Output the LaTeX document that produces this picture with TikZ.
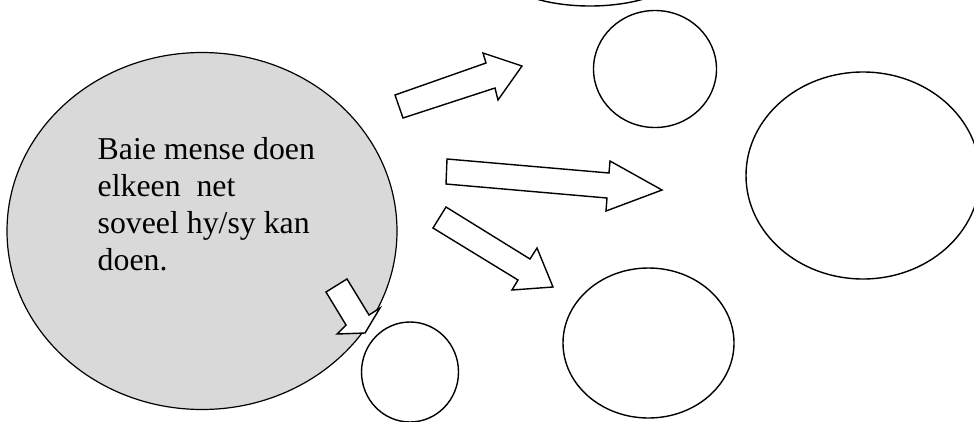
\documentclass[tikz,border=0pt]{standalone}
\usepackage{fontspec}
\setmainfont{Liberation Serif}
\usetikzlibrary{shapes.geometric}
\begin{document}
\begin{tikzpicture}[x=1pt,y=-1pt,line width=1.4pt,
  blob/.style={draw=black},
  blockarrow/.style={draw=black,fill=white,line join=miter}]
\useasboundingbox (0,0) rectangle (974,421);
\begin{scope}
\clip (0,0) rectangle (974,421);
% main grey ellipse
\draw[blob,fill=black!15,line width=1.2pt] (202,231) ellipse [x radius=195, y radius=178.5];
\node[anchor=north west,inner sep=0pt,align=left,font=\fontsize{31.8}{37}\selectfont] (txt) at (97,136.5)
  {Baie mense doen\\elkeen\ \ net\\soveel hy/sy kan\\doen.};
% other ellipses
\draw[blob] (590,-34) ellipse [x radius=95, y radius=40];
\draw[blob] (655,69) ellipse [x radius=61.5, y radius=58.5];
\draw[blob] (863,175.5) ellipse [x radius=117, y radius=103.5];
\draw[blob] (648.5,343) ellipse [x radius=85.5, y radius=75];
\draw[blob] (410,372) ellipse [x radius=48.5, y radius=50];
% block arrows
\draw[blockarrow] (395,95) -- (486,63) -- (483,53) -- (522,66) -- (498,100) -- (495,88) -- (403,118) -- cycle;
\draw[blockarrow] (447,159) -- (609,173) -- (610,161) -- (662,190) -- (606,211) -- (607,198) -- (446,184) -- cycle;
\draw[blockarrow] (446,207) -- (530,259) -- (537,248) -- (553,287) -- (512,290) -- (518,280) -- (433,228) -- cycle;
\draw[blockarrow] (326,292) -- (347,279) -- (369,315) -- (380,308) -- (365,333) -- (337,334) -- (346,325) -- cycle;
\end{scope}
\end{tikzpicture}
\end{document}
